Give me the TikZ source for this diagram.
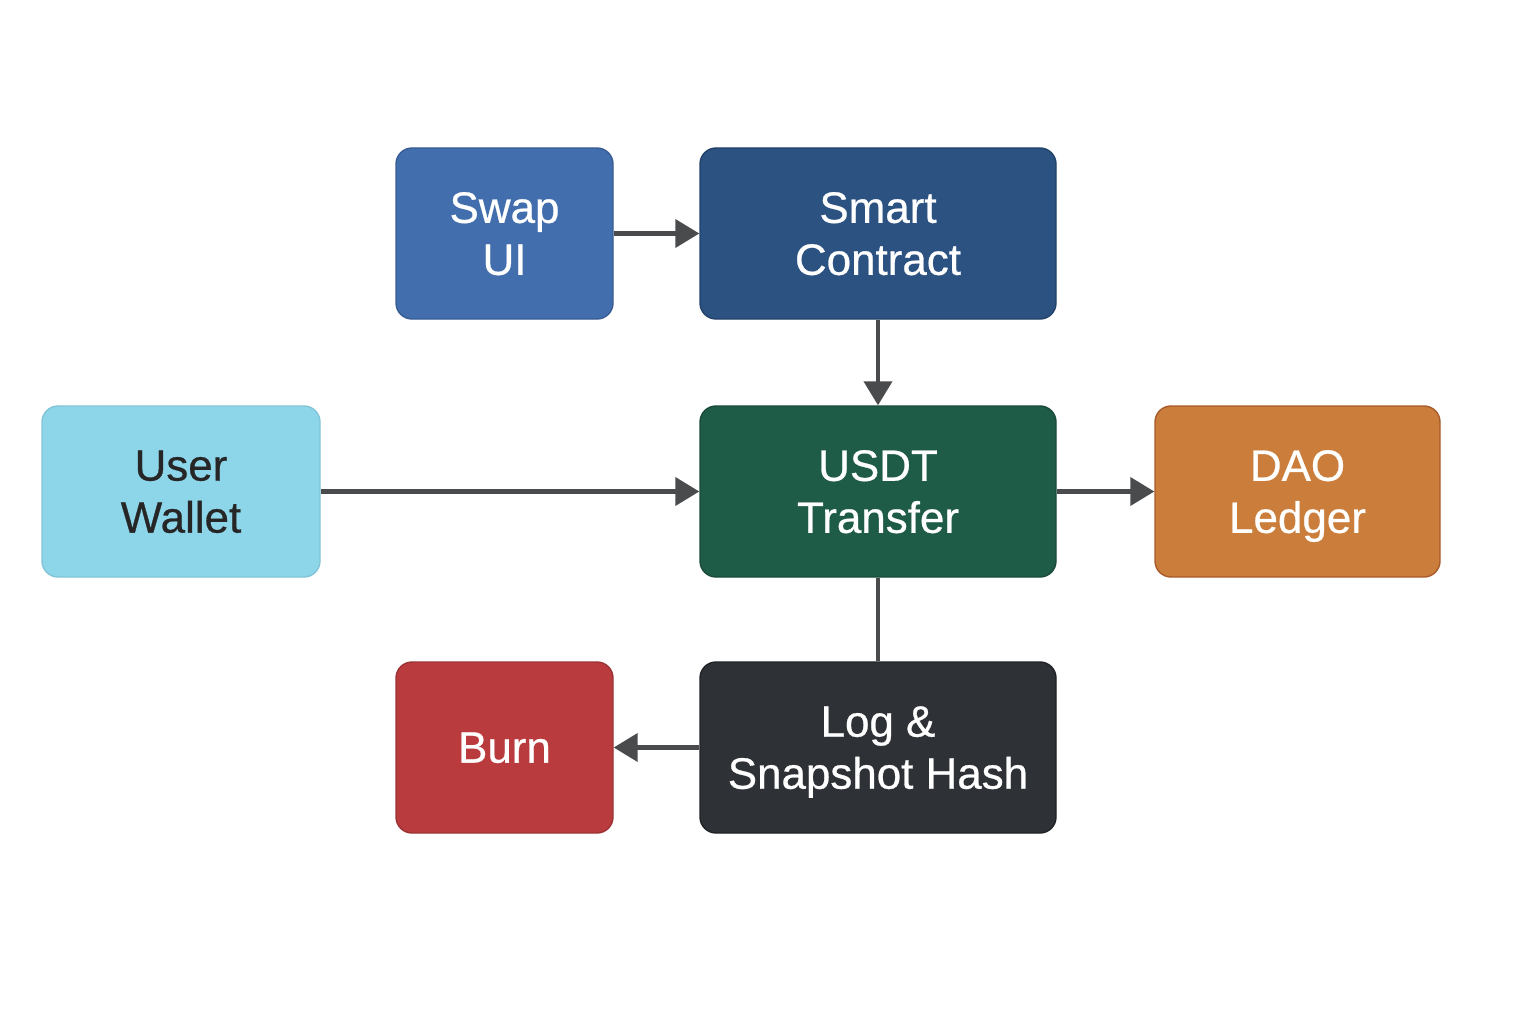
\documentclass[tikz,border=0pt]{standalone}
\usepackage{fontspec}
\setmainfont{Liberation Sans}
\newfontfamily\boxfont[FakeBold=0.6]{Liberation Sans}
\usepackage{tikz}
\usetikzlibrary{arrows.meta}

\definecolor{swapblue}{HTML}{436EAD}
\definecolor{smartblue}{HTML}{2C5282}
\definecolor{walletblue}{HTML}{8DD6EA}
\definecolor{usdtgreen}{HTML}{1F5C47}
\definecolor{daoorange}{HTML}{CB7E3B}
\definecolor{burnred}{HTML}{B93B3E}
\definecolor{logdark}{HTML}{2E3136}
\definecolor{linkgray}{HTML}{4A4B4D}

\begin{document}
\begin{tikzpicture}[
  box/.style={rectangle,rounded corners=0.16cm,line width=0.4pt,
    minimum height=1.71cm,inner sep=0pt,align=center,text=white,
    text depth=0pt,font=\boxfont\fontsize{12.5}{14.8}\selectfont},
  link/.style={draw=linkgray,line width=1.15pt,
    -{Triangle[length=0.24cm,width=0.28cm]}}
  ]
  \useasboundingbox (0,0) rectangle (15.36,10.24);
  % top row
  \node[box,fill=swapblue,draw=swapblue!85!black,minimum width=2.17cm]
    (swap) at (5.045,7.905) {Swap\\UI};
  \node[box,fill=smartblue,draw=smartblue!80!black,minimum width=3.56cm]
    (smart) at (8.78,7.905) {Smart\\Contract};
  % middle row
  \node[box,fill=walletblue,draw=walletblue!92!black,text=black!85,minimum width=2.78cm]
    (wallet) at (1.81,5.325) {User\\Wallet};
  \node[box,fill=usdtgreen,draw=usdtgreen!80!black,minimum width=3.56cm]
    (usdt) at (8.78,5.325) {USDT\\Transfer};
  \node[box,fill=daoorange,draw=daoorange!90!red!80!black,minimum width=2.85cm]
    (dao) at (12.975,5.325) {DAO\\Ledger};
  % bottom row
  \node[box,fill=burnred,draw=burnred!85!black,minimum width=2.17cm]
    (burn) at (5.045,2.765) {Burn};
  \node[box,fill=logdark,draw=logdark!70!black,minimum width=3.56cm]
    (log) at (8.78,2.765) {Log \&\\Snapshot Hash};

  \draw[link] (swap) -- (smart);
  \draw[link] (smart) -- (usdt);
  \draw[link] (wallet) -- (usdt);
  \draw[link] (usdt) -- (dao);
  \draw[link,-] (usdt) -- (log);
  \draw[link] (log) -- (burn);
\end{tikzpicture}
\end{document}
